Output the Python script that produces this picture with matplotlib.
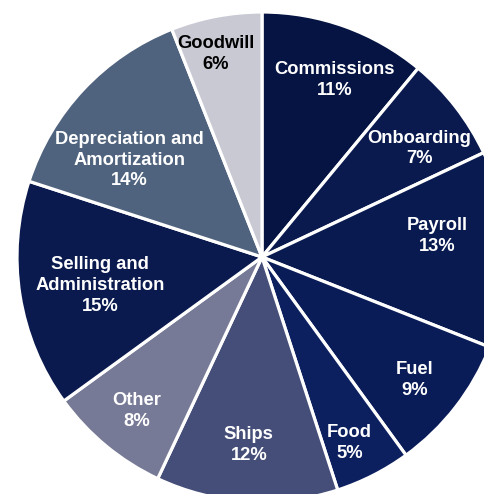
import numpy as np
import matplotlib
matplotlib.use("Agg")
import matplotlib.pyplot as plt

# Cost breakdown, clockwise from 12 o'clock
categories = ["Commissions", "Onboarding", "Payroll", "Fuel", "Food", "Ships",
              "Other", "Selling and\nAdministration",
              "Depreciation and\nAmortization", "Goodwill"]
shares = [11, 7, 13, 9, 5, 12, 8, 15, 14, 6]
colors = ["#051442", "#0a1a4e", "#091a50", "#0a1c58", "#0c205f", "#454e78",
          "#777a96", "#0a1a4e", "#50637e", "#c8c9d3"]
text_colors = ["white"] * 9 + ["black"]
label_r = [0.78, 0.78, 0.72, 0.80, 0.84, 0.77, 0.81, 0.67, 0.67, 0.85]
label_shift = [-2.4, -3.2, 5.0, -1.2, -1.8, -0.4, 0.6, 1.0, 7.0, 2.0]  # degrees

plt.rcParams['font.family'] = ['Liberation Sans', 'DejaVu Sans']

fig = plt.figure(figsize=(4.84, 4.94), dpi=100)
ax = fig.add_axes([0, 0, 1, 1])

wedges, _ = ax.pie(shares, colors=colors, startangle=90, counterclock=False,
                   radius=1, wedgeprops=dict(edgecolor="white", linewidth=2.3))

for w, name, v, tc, r, sh in zip(wedges, categories, shares, text_colors,
                                 label_r, label_shift):
    mid = np.deg2rad((w.theta1 + w.theta2) / 2 + sh)
    ax.text(r * np.cos(mid), r * np.sin(mid), f"{name}\n{v}%", ha="center",
            va="center", color=tc, fontsize=13.2, fontweight="bold",
            linespacing=1.3)

# center at (262, 257) px, radius 245 px
ax.set_aspect("auto")
ax.set_xlim(-262 / 245, (484 - 262) / 245)
ax.set_ylim(-(494 - 257) / 245, 257 / 245)
ax.axis("off")

fig.savefig("out.png", dpi=100)
